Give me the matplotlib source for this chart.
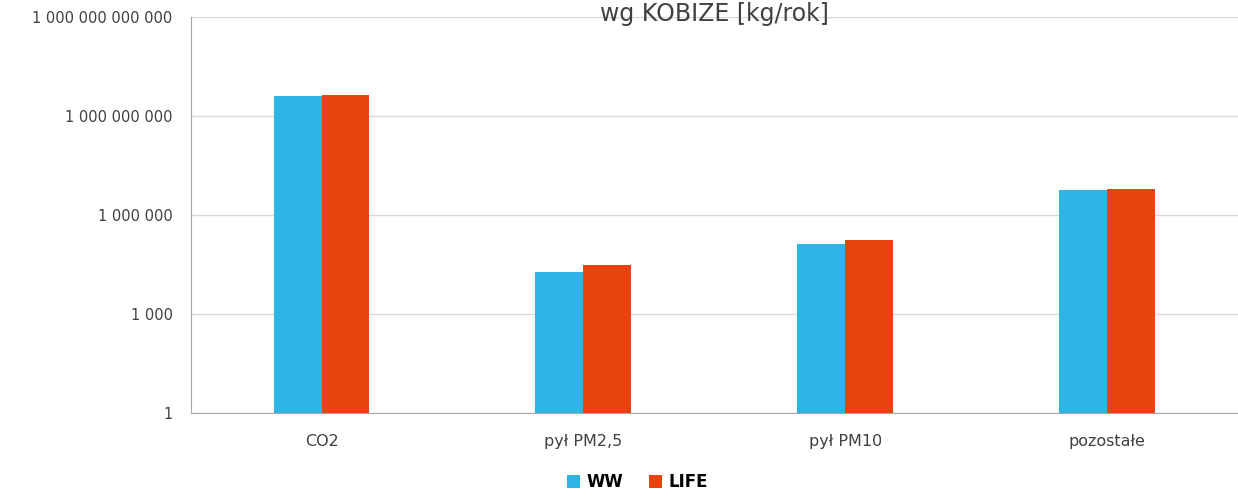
import numpy as np
import matplotlib.pyplot as plt
from matplotlib.ticker import FixedLocator, FuncFormatter

categories = ['CO2', 'pył PM2,5', 'pył PM10', 'pozostałe']
ww = [4.0e9, 1.86e4, 1.3e5, 5.7e6]
life = [4.2e9, 3.1e4, 1.7e5, 6.0e6]
yticks = [1, 1e3, 1e6, 1e9, 1e12]

plt.rcParams['font.family'] = ['DejaVu Sans']

fig = plt.figure(figsize=(12.38, 4.97), dpi=100)
ax = fig.add_axes([0.154, 0.169, 0.846, 0.797])

x = np.arange(len(categories))
w = 0.183
ax.bar(x - w / 2, ww, width=w, color='#2DB5E6', label='WW', zorder=3)
ax.bar(x + w / 2, life, width=w, color='#E8440F', label='LIFE', zorder=3)

ax.set_yscale('log')
ax.set_ylim(1, 1e12)
ax.set_xlim(-0.5, len(categories) - 0.5)
ax.yaxis.set_major_locator(FixedLocator(yticks))
ax.yaxis.set_minor_locator(FixedLocator([]))
ax.yaxis.set_major_formatter(FuncFormatter(lambda v, p: f'{int(round(v)):,}'.replace(',', ' ')))
ax.set_xticks(x)
ax.set_xticklabels(categories)
ax.tick_params(axis='y', length=0, labelsize=10.5, colors='#404040', pad=13)
ax.tick_params(axis='x', length=0, labelsize=11.5, colors='#404040', pad=15)
ax.grid(axis='y', color='#D9D9D9', linewidth=1, zorder=0)

for s in ['top', 'right']:
    ax.spines[s].set_visible(False)
for s in ['left', 'bottom']:
    ax.spines[s].set_color('#A6A6A6')

fig.text(0.577, 0.972, 'wg KOBIZE [kg/rok]', ha='center', va='center', fontsize=17, color='#404040')

fig.legend(loc='center', bbox_to_anchor=(0.515, 0.03), ncol=2, frameon=False,
           handlelength=0.8, handleheight=0.8, handletextpad=0.4, columnspacing=1.5,
           prop={'weight': 'bold', 'size': 12})

fig.savefig('out.png', dpi=100)
